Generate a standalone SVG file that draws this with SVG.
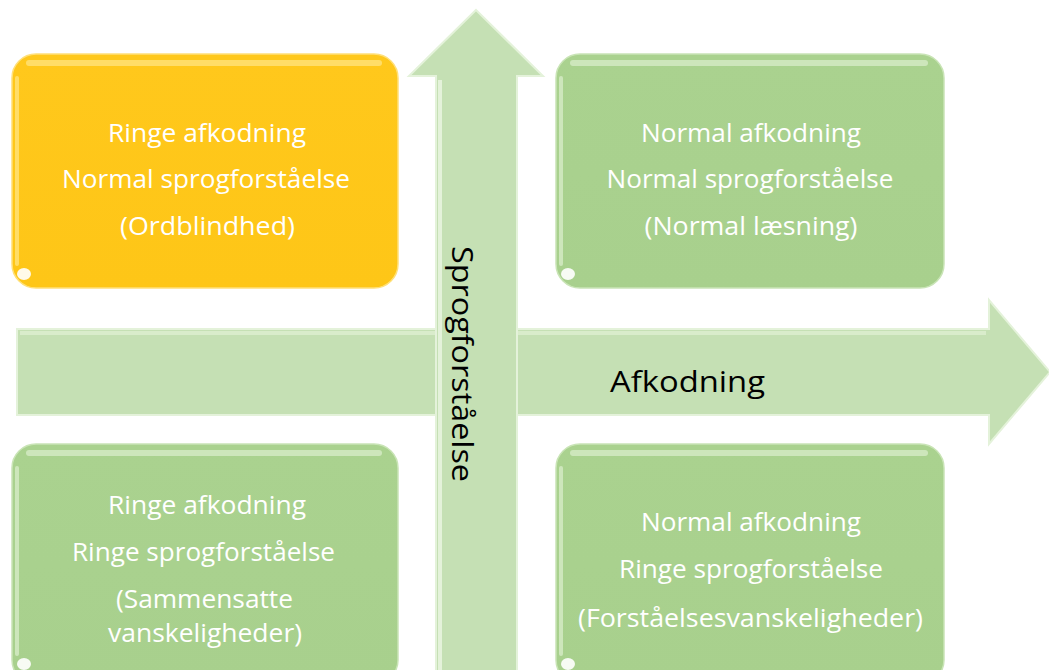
<svg xmlns="http://www.w3.org/2000/svg" width="1049" height="670" viewBox="0 0 1049 670">
  <defs>
    <linearGradient id="gYellow" x1="0" y1="0" x2="0" y2="1">
      <stop offset="0" stop-color="#FFC81C"/>
      <stop offset="1" stop-color="#FEC617"/>
    </linearGradient>
    <linearGradient id="gGreen" x1="0" y1="0" x2="0" y2="1">
      <stop offset="0" stop-color="#AAD28F"/>
      <stop offset="1" stop-color="#A8D08D"/>
    </linearGradient>
  </defs>
  <style>
    .box-y { fill: url(#gYellow); stroke: #FFE07A; stroke-width: 1.5; }
    .box-g { fill: url(#gGreen); stroke: #C9E4B6; stroke-width: 1.5; }
    .hl-y { fill: #FFE27A; opacity: 0.8; }
    .hl-g { fill: #D3EAC3; opacity: 0.85; }
    .dot { fill: #FFFFFF; opacity: 0.9; }
    .arrow { fill: #C5E0B4; stroke: #E4F2DA; stroke-width: 2; stroke-linejoin: miter; }
    .lbl { font-family: "Open Sans", "Liberation Sans", sans-serif; font-size: 26px; fill: #FFFFFF; text-anchor: middle; }
    .axis { font-family: "Open Sans", "Liberation Sans", sans-serif; font-size: 30px; fill: #000000; }
  </style>

  <g id="connectors">
    <g id="arrow-afkodning">
      <polygon class="arrow" points="17,329 989,329 989,300 1050,372 989,444 989,415 17,415"/>
      <rect x="20" y="331" width="966" height="4" fill="#DDEFD1" opacity="0.8"/>
      <text class="axis" x="610" y="392" textLength="155" lengthAdjust="spacingAndGlyphs">Afkodning</text>
    </g>
    <g id="arrow-sprogforstaaelse">
      <polygon class="arrow" points="476,10 543,76 517,76 517,690 436,690 436,76 409,76"/>
      <rect x="438" y="80" width="4" height="600" fill="#E7F4DE" opacity="0.9"/>
      <text class="axis" transform="translate(452,246) rotate(90)" x="0" y="0" textLength="236" lengthAdjust="spacingAndGlyphs">Sprogforståelse</text>
    </g>
  </g>

  <g id="node-tl">
    <rect class="box-y" x="12" y="54" width="386" height="234" rx="24" ry="24"/>
    <rect class="hl-y" x="26" y="60" width="356" height="6" rx="3"/>
    <rect class="hl-y" x="15" y="76" width="4" height="190" rx="2" opacity="0.5"/>
    <ellipse class="dot" cx="24" cy="274" rx="7" ry="6"/>
    <text class="lbl" x="207" y="142" textLength="198" lengthAdjust="spacingAndGlyphs">Ringe afkodning</text>
    <text class="lbl" x="206" y="188" textLength="288" lengthAdjust="spacingAndGlyphs">Normal sprogforståelse</text>
    <text class="lbl" x="207.5" y="235" textLength="175" lengthAdjust="spacingAndGlyphs">(Ordblindhed)</text>
  </g>

  <g id="node-tr">
    <rect class="box-g" x="556" y="54" width="388" height="234" rx="24" ry="24"/>
    <rect class="hl-g" x="570" y="60" width="358" height="6" rx="3"/>
    <rect class="hl-g" x="559" y="76" width="4" height="190" rx="2" opacity="0.5"/>
    <ellipse class="dot" cx="568" cy="274" rx="7" ry="6"/>
    <text class="lbl" x="751" y="142" textLength="220" lengthAdjust="spacingAndGlyphs">Normal afkodning</text>
    <text class="lbl" x="750" y="188" textLength="287" lengthAdjust="spacingAndGlyphs">Normal sprogforståelse</text>
    <text class="lbl" x="751" y="235" textLength="213" lengthAdjust="spacingAndGlyphs">(Normal læsning)</text>
  </g>

  <g id="node-bl">
    <rect class="box-g" x="12" y="444" width="386" height="240" rx="24" ry="24"/>
    <rect class="hl-g" x="26" y="450" width="356" height="6" rx="3"/>
    <rect class="hl-g" x="15" y="466" width="4" height="190" rx="2" opacity="0.5"/>
    <ellipse class="dot" cx="24" cy="664" rx="7" ry="6"/>
    <text class="lbl" x="207" y="514" textLength="198" lengthAdjust="spacingAndGlyphs">Ringe afkodning</text>
    <text class="lbl" x="203.5" y="561" textLength="263" lengthAdjust="spacingAndGlyphs">Ringe sprogforståelse</text>
    <text class="lbl" x="204.5" y="608" textLength="177" lengthAdjust="spacingAndGlyphs">(Sammensatte</text>
    <text class="lbl" x="205" y="642" textLength="194" lengthAdjust="spacingAndGlyphs">vanskeligheder)</text>
  </g>

  <g id="node-br">
    <rect class="box-g" x="556" y="444" width="388" height="240" rx="24" ry="24"/>
    <rect class="hl-g" x="570" y="450" width="358" height="6" rx="3"/>
    <rect class="hl-g" x="559" y="466" width="4" height="190" rx="2" opacity="0.5"/>
    <ellipse class="dot" cx="568" cy="664" rx="7" ry="6"/>
    <text class="lbl" x="751" y="531" textLength="220" lengthAdjust="spacingAndGlyphs">Normal afkodning</text>
    <text class="lbl" x="751" y="578" textLength="264" lengthAdjust="spacingAndGlyphs">Ringe sprogforståelse</text>
    <text class="lbl" x="750.5" y="627" textLength="345" lengthAdjust="spacingAndGlyphs">(Forståelsesvanskeligheder)</text>
  </g>
</svg>
